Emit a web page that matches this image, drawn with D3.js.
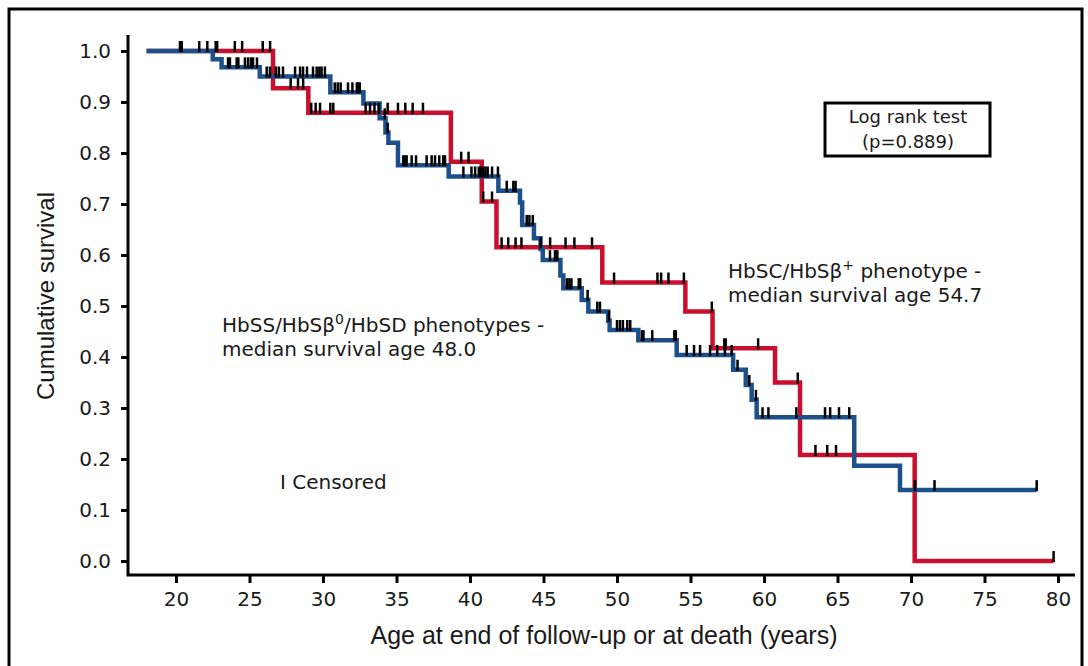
<!DOCTYPE html>
<html lang="en">
<head>
  <meta charset="UTF-8">
  <script type="text/javascript" src="https://cdn.jsdelivr.net/npm/d3@7/dist/d3.min.js"></script>
  <title>Cumulative survival by phenotype</title>
  <style>
    body { margin: 0; background: #ffffff; }
    svg { display: block; background: #ffffff; }
    .tick text { font-family: "DejaVu Sans", sans-serif; font-size: 20px; fill: #1a1a1a; }
    .tick line { stroke: #000; stroke-width: 3; }
    .ann { font-family: "DejaVu Sans", sans-serif; font-size: 20px; fill: #1a1a1a; }
    .title { font-family: "Liberation Sans Narrow", "Liberation Sans", sans-serif; fill: #1a1a1a; }
    .censor { stroke: #000; stroke-width: 2.5; }
  </style>
</head>
<body>
<div id="chart"></div>
<script>
  // axis ticks
  var ageTicks = [20, 25, 30, 35, 40, 45, 50, 55, 60, 65, 70, 75, 80];
  var survTicks = [0, 0.1, 0.2, 0.3, 0.4, 0.5, 0.6, 0.7, 0.8, 0.9, 1.0];

  // HbSC/HbSb+ (red): ages where the curve steps down and the level after the step
  var hbscAge  = [18, 26.6, 29.0, 38.7, 40.8, 41.8, 49.0, 54.65, 56.5, 60.75, 62.45, 70.25];
  var hbscSurv = [1.0, 0.927, 0.879, 0.783, 0.705, 0.615, 0.546, 0.489, 0.417, 0.35, 0.208, 0.0];
  var hbscCensor = [22.7, 22.8, 24.0, 24.5, 25.9, 26.4, 27.8, 28.3, 28.65, 29.2, 29.5, 29.8, 30.5, 30.7,
    32.9, 33.2, 33.5, 33.8, 34.4, 35.1, 35.6, 36.1, 36.8, 39.4, 39.9, 40.9, 41.5, 42.15, 42.6, 43.1,
    43.5, 44.8, 45.45, 46.5, 47.1, 48.3, 49.8, 52.75, 53.0, 53.5, 54.55, 56.45, 57.3, 57.4, 59.6,
    62.3, 63.5, 64.3, 64.9, 79.7];

  // HbSS/HbSb0/HbSD (blue)
  var hbssAge  = [18, 22.5, 23.1, 25.7, 30.5, 32.75, 33.85, 34.25, 34.45, 35.1, 38.55, 41.93, 43.4,
    43.55, 44.35, 44.8, 44.95, 46.15, 46.35, 47.6, 48.05, 49.4, 49.5, 51.45, 54.06, 57.9, 58.76,
    59.16, 59.5, 66.14, 69.25];
  var hbssSurv = [1.0, 0.984, 0.968, 0.95, 0.919, 0.897, 0.868, 0.84, 0.82, 0.776, 0.754, 0.726, 0.703,
    0.659, 0.633, 0.612, 0.59, 0.56, 0.535, 0.512, 0.489, 0.471, 0.453, 0.433, 0.404, 0.375, 0.345,
    0.316, 0.282, 0.187, 0.139];
  var hbssCensor = [20.27, 20.39, 21.58, 22.13, 23.54, 23.67, 24.13, 24.24, 24.69, 24.9, 25.1, 25.24,
    25.51, 26.17, 26.39, 26.8, 27.0, 27.28, 28.1, 28.44, 28.64, 28.91, 29.32, 29.57, 29.75, 29.9,
    30.13, 30.8, 31.0, 31.2, 31.7, 32.0, 32.3, 32.4, 32.5, 34.2, 34.4, 35.46, 35.58, 35.69, 36.03,
    36.33, 37.05, 37.39, 37.62, 37.91, 38.18, 38.3, 39.55, 40.1, 40.35, 40.6, 40.75, 40.9, 41.05,
    41.2, 41.5, 41.9, 42.5, 42.95, 43.1, 43.86, 44.04, 44.27, 45.44, 45.78, 45.94, 46.6, 46.76,
    46.9, 47.4, 47.5, 48.0, 48.66, 48.84, 49.45, 50.0, 50.2, 50.4, 50.7, 50.9, 51.7, 51.8, 52.4,
    53.9, 54.0, 54.74, 55.24, 55.65, 56.33, 56.82, 57.34, 57.8, 58.2, 59.0, 59.45, 59.9, 60.3,
    62.2, 64.15, 64.5, 65.1, 65.8, 70.27, 71.6, 78.55];

  var width = 1088, height = 666;

  var svg = d3.select("#chart").append("svg")
    .attr("width", width)
    .attr("height", height);

  // outer frame
  svg.append("rect")
    .attr("x", 9).attr("y", 9)
    .attr("width", 1073).attr("height", 700)
    .attr("fill", "none")
    .attr("stroke", "#000")
    .attr("stroke-width", 3);

  var x = d3.scaleLinear().domain([20, 80]).range([176, 1058]);
  var y = d3.scaleLinear().domain([0, 1]).range([561, 51]);

  var axisX = 128, axisY = 575;

  // x axis
  var gx = svg.append("g")
    .attr("transform", "translate(0," + axisY + ")")
    .call(d3.axisBottom(x).tickValues(ageTicks).tickSize(8).tickPadding(9));
  gx.select(".domain").remove();
  gx.selectAll(".tick text").attr("dy", "0.72em");

  // y axis
  var gy = svg.append("g")
    .attr("transform", "translate(" + axisX + ",0)")
    .call(d3.axisLeft(y).tickValues(survTicks).tickFormat(d3.format(".1f")).tickSize(7).tickPadding(10));
  gy.select(".domain").remove();

  svg.append("path")
    .attr("d", "M" + axisX + ",35V" + axisY + "H1075")
    .attr("fill", "none")
    .attr("stroke", "#000")
    .attr("stroke-width", 3);

  // survival curves
  function stepPoints(ages, surv, end) {
    var pts = ages.map(function(a, i) { return [a, surv[i]]; });
    pts.push([end, surv[surv.length - 1]]);
    return pts;
  }
  function levelAt(ages, surv, t) {
    var s = surv[0];
    for (var i = 0; i < ages.length; i++) { if (ages[i] <= t) s = surv[i]; }
    return s;
  }

  var line = d3.line()
    .x(function(d) { return x(d[0]); })
    .y(function(d) { return y(d[1]); })
    .curve(d3.curveStepAfter);

  svg.append("path")
    .datum(stepPoints(hbscAge, hbscSurv, d3.max(hbscCensor)))
    .attr("d", line)
    .attr("fill", "none")
    .attr("stroke", "#c8102e")
    .attr("stroke-width", 4.5);

  svg.append("path")
    .datum(stepPoints(hbssAge, hbssSurv, d3.max(hbssCensor)))
    .attr("d", line)
    .attr("fill", "none")
    .attr("stroke", "#1d4f8a")
    .attr("stroke-width", 4.5);

  // censor marks
  function drawCensors(list, ages, surv) {
    svg.append("g").selectAll("line")
      .data(list)
      .enter()
      .append("line")
      .attr("class", "censor")
      .attr("x1", function(d) { return x(d); })
      .attr("x2", function(d) { return x(d); })
      .attr("y1", function(d) { return y(levelAt(ages, surv, d)) - 10; })
      .attr("y2", function(d) { return y(levelAt(ages, surv, d)) + 1; });
  }
  drawCensors(hbscCensor, hbscAge, hbscSurv);
  drawCensors(hbssCensor, hbssAge, hbssSurv);

  // axis titles
  svg.append("text")
    .attr("class", "title")
    .attr("x", 604).attr("y", 644)
    .style("text-anchor", "middle")
    .style("font-size", "25px")
    .text("Age at end of follow-up or at death (years)");

  svg.append("text")
    .attr("class", "title")
    .attr("transform", "translate(54,296)rotate(-90)")
    .style("text-anchor", "middle")
    .style("font-size", "24px")
    .text("Cumulative survival");

  // log rank box
  svg.append("rect")
    .attr("x", 825).attr("y", 103)
    .attr("width", 165).attr("height", 53)
    .attr("fill", "#fff")
    .attr("stroke", "#000")
    .attr("stroke-width", 3);
  svg.append("text").attr("class", "ann")
    .attr("x", 908).attr("y", 123)
    .style("text-anchor", "middle").style("font-size", "18px")
    .text("Log rank test");
  svg.append("text").attr("class", "ann")
    .attr("x", 908).attr("y", 148)
    .style("text-anchor", "middle").style("font-size", "18px")
    .text("(p=0.889)");

  // curve annotations
  var t1 = svg.append("text").attr("class", "ann").attr("x", 728).attr("y", 278);
  t1.append("tspan").text("HbSC/HbS\u03b2");
  t1.append("tspan").attr("dy", -8).style("font-size", "14px").text("+");
  t1.append("tspan").attr("dy", 8).text(" phenotype -");
  svg.append("text").attr("class", "ann").attr("x", 728).attr("y", 302)
    .text("median survival age 54.7");

  var t2 = svg.append("text").attr("class", "ann").attr("x", 222).attr("y", 332);
  t2.append("tspan").text("HbSS/HbS\u03b2");
  t2.append("tspan").attr("dy", -8).style("font-size", "14px").text("0");
  t2.append("tspan").attr("dy", 8).text("/HbSD phenotypes -");
  svg.append("text").attr("class", "ann").attr("x", 222).attr("y", 356)
    .text("median survival age 48.0");

  svg.append("text").attr("class", "ann")
    .attr("x", 280).attr("y", 489)
    .text("I Censored");
</script>
</body>
</html>
